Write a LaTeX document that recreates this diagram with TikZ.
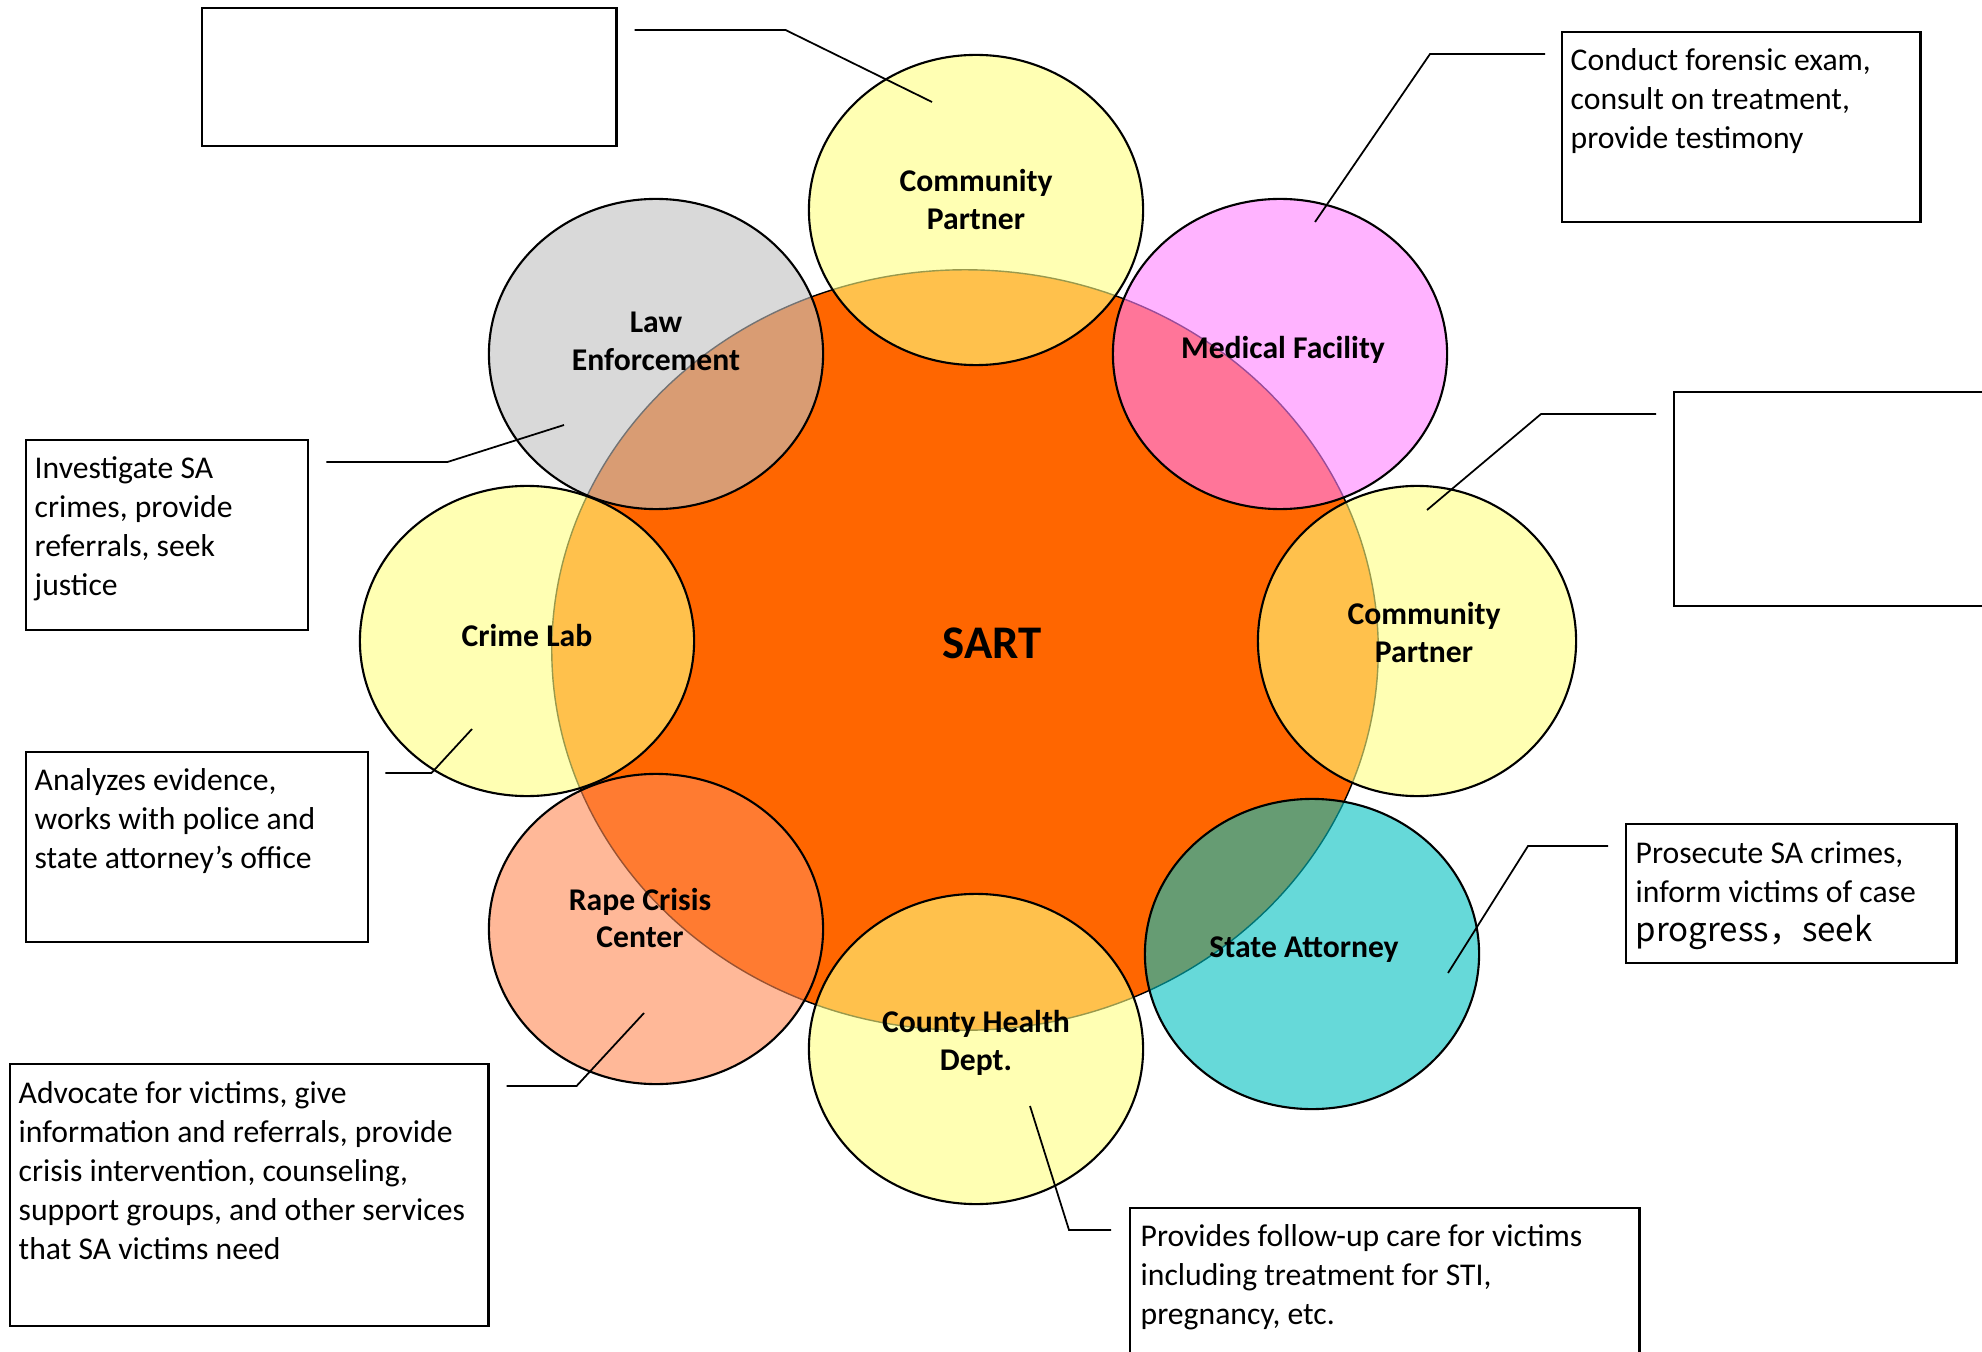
\documentclass[tikz,border=0pt]{standalone}
\usepackage{fontspec}
\setmainfont{Carlito}
\newfontfamily\cjkfont{Noto Sans CJK SC}
\usetikzlibrary{shapes.geometric,calc}

\definecolor{sartorange}{HTML}{FF6600}
\definecolor{partneryellow}{HTML}{FFFF80}
\definecolor{lawgray}{HTML}{C0C0C0}
\definecolor{medpink}{HTML}{FF80FF}
\definecolor{rapesalmon}{HTML}{FF8953}
\definecolor{statecyan}{HTML}{00C0C0}

\tikzset{
  partner/.style={ellipse, draw=black, line width=0.6pt, fill opacity=0.6,
    inner sep=0pt, minimum width=3.34cm, minimum height=3.1cm},
  lbl/.style={font=\bfseries\fontsize{9}{10.8}\selectfont, align=center, inner sep=0pt},
  descbox/.style={draw=black, line width=0.65pt, anchor=north west, inner sep=0pt},
  desctext/.style={font=\fontsize{9}{11.1}\selectfont, align=left, anchor=north west, inner sep=0pt},
  leader/.style={draw=black, line width=0.5pt}
}

\begin{document}
\begin{tikzpicture}[x=0.01cm, y=-0.01cm]
\useasboundingbox (0,0) rectangle (1982,1352);
\clip (0,0) rectangle (1982,1352);
% the team in the middle
\node[ellipse, draw=black, line width=0.4pt, fill=sartorange, inner sep=0pt,
  minimum width=8.26cm, minimum height=7.6cm] (sart) at (965,650) {};
\node[font=\bfseries\fontsize{13.3}{15}\selectfont, inner sep=0pt] (sartlbl) at (992,643) {SART};
% partners round it
\node[partner, fill=partneryellow] (cptop) at (976,210) {};
\node[partner, fill=lawgray] (law) at (656,354) {};
\node[partner, fill=medpink] (med) at (1280,354) {};
\node[partner, fill=partneryellow] (crime) at (527,641) {};
\node[partner, fill=partneryellow, minimum width=3.18cm] (cpright) at (1417,641) {};
\node[partner, fill=rapesalmon] (rape) at (656,929) {};
\node[partner, fill=partneryellow] (county) at (976,1049) {};
\node[partner, fill=statecyan] (state) at (1312,954) {};
\node[lbl] (cptoplbl) at (976,200) {Community\\Partner};
\node[lbl] (lawlbl) at (656,341) {Law\\Enforcement};
\node[lbl] (medlbl) at (1283,350) {Medical Facility};
\node[lbl] (crimelbl) at (527,636) {Crime Lab};
\node[lbl] (cprightlbl) at (1424,633) {Community\\Partner};
\node[lbl] (rapelbl) at (640,918) {Rape Crisis\\Center};
\node[lbl] (countylbl) at (976,1043) {County Health\\Dept.};
\node[lbl] (statelbl) at (1304,950) {State Attorney};
% what each one does
\node[descbox, minimum width=4.14cm, minimum height=1.38cm] (cptopbox) at (201,7) {};
\node[descbox, minimum width=2.82cm, minimum height=1.9cm] (lawbox) at (25,439) {};
\node[desctext] (lawtxt) at ([shift={(9,17)}]lawbox.north west)
  {Investigate SA\\crimes, provide\\referrals, seek\\justice};
\node[descbox, minimum width=3.42cm, minimum height=1.9cm] (crimebox) at (25,751) {};
\node[desctext] (crimetxt) at ([shift={(9,17)}]crimebox.north west)
  {Analyzes evidence,\\works with police and\\state attorney’s office};
\node[descbox, minimum width=4.78cm, minimum height=2.62cm] (rapebox) at (9,1063) {};
\node[desctext] (rapetxt) at ([shift={(9,18)}]rapebox.north west)
  {Advocate for victims, give\\information and referrals, provide\\crisis intervention, counseling,\\support groups, and other services\\that SA victims need};
\node[descbox, minimum width=3.58cm, minimum height=1.9cm] (medbox) at (1561,31) {};
\node[desctext] (medtxt) at ([shift={(9,17)}]medbox.north west)
  {Conduct forensic exam,\\consult on treatment,\\provide testimony};
\node[descbox, minimum width=3.25cm, minimum height=2.14cm] (cprightbox) at (1673,391) {};
\node[descbox, minimum width=3.3cm, minimum height=1.39cm] (statebox) at (1625,823) {};
\node[desctext] (statetxt) at ([shift={(10,18)}]statebox.north west)
  {Prosecute SA crimes,\\inform victims of case\\{\cjkfont\fontsize{9.4}{11.1}\selectfont progress，seek}};
\node[descbox, minimum width=5.09cm, minimum height=1.6cm] (countybox) at (1129,1207) {};
\node[desctext] (countytxt) at ([shift={(11,17)}]countybox.north west)
  {Provides follow-up care for victims\\including treatment for STI,\\pregnancy, etc.};
% leaders
\draw[leader] ([shift={(17,23)}]cptopbox.north east) -- ++(151,0) -- ($(cptop.center)+(-44,-108)$);
\draw[leader] ([shift={(17,23)}]lawbox.north east) -- ++(121,0) -- ($(law.center)+(-92,71)$);
\draw[leader] ([shift={(16,22)}]crimebox.north east) -- ++(46,0) -- ($(crime.center)+(-55,88)$);
\draw[leader] ([shift={(17,23)}]rapebox.north east) -- ++(70,0) -- ($(rape.center)+(-12,84)$);
\draw[leader] ([shift={(-16,23)}]medbox.north west) -- ++(-115,0) -- ($(med.center)+(35,-132)$);
\draw[leader] ([shift={(-17,23)}]cprightbox.north west) -- ++(-115,0) -- ($(cpright.center)+(10,-131)$);
\draw[leader] ([shift={(-17,23)}]statebox.north west) -- ++(-80,0) -- ($(state.center)+(136,19)$);
\draw[leader] ([shift={(-18,23)}]countybox.north west) -- ++(-42,0) -- ($(county.center)+(54,57)$);
\end{tikzpicture}
\end{document}
